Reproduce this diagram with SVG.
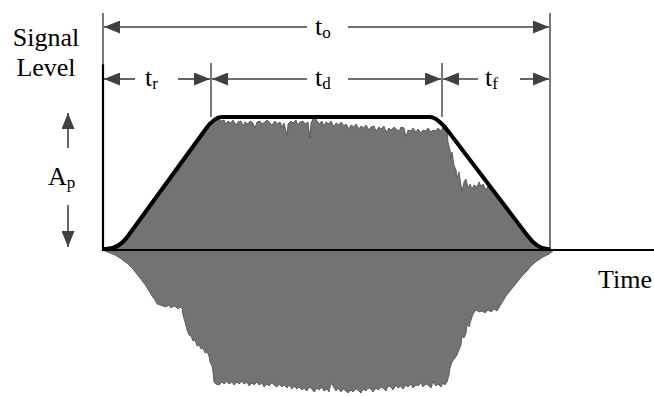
<svg xmlns="http://www.w3.org/2000/svg" width="654" height="396" viewBox="0 0 654 396">
<style>
.lbl{font-family:"Liberation Serif","Times New Roman",serif;font-size:26px;fill:#000}
.sub{font-size:17px}
.dim{stroke:#404040;stroke-width:1.4;fill:none}
.arr{stroke:#404040;stroke-width:1.6;fill:none;marker-end:url(#ah)}
.axis{stroke:#000;stroke-width:2.2;fill:none}
.env{stroke:#000;stroke-width:4;fill:none;stroke-linecap:round;stroke-linejoin:round}
.noise{fill:#737373;stroke:#4d4d4d;stroke-width:0.8;stroke-linejoin:round}
</style>
<defs>
<marker id="ah" viewBox="0 0 16 13" refX="16" refY="6.5" markerWidth="16" markerHeight="13" markerUnits="userSpaceOnUse" orient="auto">
<path d="M0,0 L16,6.5 L0,13 z" fill="#404040"/>
</marker>
</defs>
<rect width="654" height="396" fill="#fff"/>
<g id="signal">
<path class="noise" d="M103,250 L112,248 L120,244 L127,238 L133,230 L138,223 L143,216 L148,209 L153,202 L158,195 L162,190 L165,186 L168,181 L170,183 L172,177 L175,174 L177,168 L179,171 L181,163 L183,166 L185,157 L186,160 L188,151 L190,156 L191,148 L193,151 L195,143 L197,146 L199,137 L200,141 L202,133 L204,136 L206,127 L209,125 L212,122 L215,121 L218,119 L221,121 L224,120 L226,124 L228,121 L231,123 L233,120 L236,125 L238,122 L241,121 L243,126 L245,122 L248,124 L250,121 L253,123 L255,128 L257,122 L260,121 L262,124 L265,122 L267,120 L270,123 L272,125 L275,121 L277,124 L280,122 L282,127 L284,123 L287,135 L288,124 L291,121 L293,123 L296,120 L298,125 L300,122 L303,121 L305,124 L308,122 L310,138 L311,123 L313,119 L315,116 L317,121 L319,124 L322,121 L324,126 L326,122 L329,124 L331,121 L334,127 L336,123 L339,125 L341,122 L344,126 L346,124 L349,129 L351,125 L354,127 L356,124 L359,129 L361,126 L364,128 L366,125 L369,130 L371,127 L374,126 L376,131 L379,127 L381,129 L384,126 L386,132 L389,128 L391,130 L394,127 L396,129 L399,131 L401,127 L404,128 L406,137 L408,130 L411,131 L413,128 L416,132 L418,129 L421,133 L423,130 L426,131 L428,128 L431,132 L433,130 L436,131 L438,128 L441,131 L443,127 L446,125 L447,128 L448,142 L450,150 L451,158 L452,152 L454,165 L456,170 L457,178 L459,172 L461,185 L462,191 L464,182 L466,179 L468,188 L470,184 L472,189 L474,185 L477,187 L479,182 L481,186 L483,184 L486,190 L488,186 L491,189 L494,191 L497,196 L500,201 L503,206 L506,211 L510,216 L514,222 L518,227 L522,232 L526,237 L531,241 L536,245 L541,248 L547,250 L553,251 L549,254 L543,257 L537,261 L532,265 L527,271 L522,276 L518,281 L514,286 L510,291 L506,296 L503,301 L500,306 L497,311 L494,309 L491,312 L488,310 L485,313 L482,311 L479,312 L476,310 L473,314 L471,320 L469,327 L467,324 L466,333 L464,338 L462,336 L461,345 L459,350 L457,355 L455,358 L452,362 L450,368 L449,375 L447,382 L445,385 L443,383 L441,387 L438,384 L436,386 L433,382 L431,388 L428,385 L426,384 L423,387 L421,383 L418,386 L416,385 L413,388 L411,384 L408,387 L406,385 L403,389 L401,386 L398,388 L396,385 L393,390 L391,387 L388,386 L386,391 L383,388 L381,387 L378,390 L376,388 L373,392 L371,389 L368,388 L366,391 L363,389 L361,393 L358,390 L356,389 L353,392 L351,390 L348,393 L346,391 L343,389 L341,392 L338,388 L336,391 L333,386 L331,383 L329,392 L327,389 L324,391 L322,387 L319,390 L317,388 L314,392 L312,389 L309,387 L307,391 L304,388 L302,390 L299,387 L297,389 L294,386 L292,389 L289,385 L287,388 L284,385 L282,387 L279,384 L277,387 L274,385 L272,383 L269,386 L267,384 L264,387 L262,383 L259,385 L257,382 L254,385 L252,383 L249,386 L247,382 L244,384 L242,381 L239,384 L237,382 L234,385 L232,382 L229,384 L227,381 L224,384 L222,382 L219,385 L216,384 L214,382 L213,372 L212,366 L210,362 L209,356 L207,352 L205,353 L203,348 L201,349 L199,345 L197,346 L195,340 L193,341 L191,336 L189,335 L187,330 L186,326 L185,322 L183,315 L182,308 L180,307 L178,309 L176,307 L174,306 L171,308 L169,305 L166,307 L163,306 L160,305 L157,304 L155,300 L152,296 L149,291 L146,286 L143,282 L140,278 L136,273 L132,268 L128,264 L124,261 L120,258 L115,255 L110,253 L105,251 Z"/>
</g>
<g id="axes">
<line class="axis" x1="103" y1="64" x2="103" y2="251"/>
<line class="axis" x1="102" y1="250" x2="654" y2="250"/>
</g>
<g id="envelope">
<path class="env" d="M104,249 Q118,250 128,236 L205,130 Q214,117 222,117 L430,117 Q437,117 448,131 L527,235 Q538,250 549,249"/>
</g>
<g id="connectors">
<line class="dim" x1="103" y1="13" x2="103" y2="65"/>
<line class="dim" x1="211" y1="63" x2="211" y2="117"/>
<line class="dim" x1="442" y1="63" x2="442" y2="117"/>
<line class="dim" x1="550" y1="13" x2="550" y2="249"/>
<line class="arr" x1="307" y1="27" x2="104" y2="27"/>
<line class="arr" x1="348" y1="27" x2="549" y2="27"/>
<line class="arr" x1="135" y1="79" x2="104" y2="79"/>
<line class="arr" x1="178" y1="79" x2="210" y2="79"/>
<line class="arr" x1="307" y1="79" x2="212" y2="79"/>
<line class="arr" x1="348" y1="79" x2="441" y2="79"/>
<line class="arr" x1="478" y1="79" x2="443" y2="79"/>
<line class="arr" x1="520" y1="79" x2="549" y2="79"/>
<line class="arr" x1="68" y1="148" x2="68" y2="113"/>
<line class="arr" x1="68" y1="205" x2="68" y2="247"/>
</g>
<g id="labels">
<text class="lbl" x="46" y="46" text-anchor="middle">Signal</text>
<text class="lbl" x="46" y="76" text-anchor="middle">Level</text>
<text class="lbl" x="48" y="185">A<tspan class="sub" dy="3">p</tspan></text>
<text class="lbl" x="598" y="288">Time</text>
<text class="lbl" x="315" y="35">t<tspan class="sub" dy="3">o</tspan></text>
<text class="lbl" x="145" y="86">t<tspan class="sub" dy="3">r</tspan></text>
<text class="lbl" x="315" y="86">t<tspan class="sub" dy="3">d</tspan></text>
<text class="lbl" x="485" y="86">t<tspan class="sub" dy="3">f</tspan></text>
</g>
</svg>
